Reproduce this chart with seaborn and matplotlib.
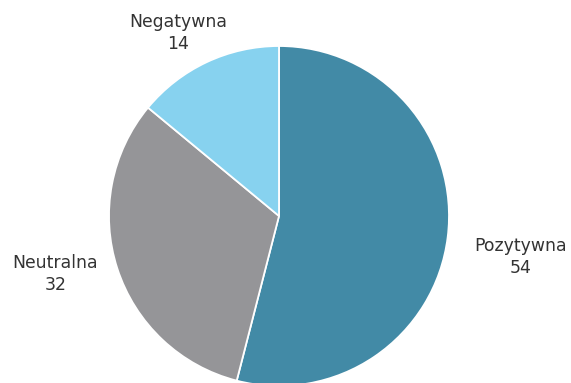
import numpy as np
import matplotlib
matplotlib.use("Agg")
import matplotlib.pyplot as plt
import seaborn as sns

categories = ["Pozytywna", "Neutralna", "Negatywna"]
values = [54, 32, 14]
colors = ["#428aa6", "#959598", "#87d2ef"]

sns.set_theme(style="white")
plt.rcParams["font.family"] = ["DejaVu Sans"]

W, H = 571, 383
fig = plt.figure(figsize=(W / 100, H / 100), dpi=100)
ax = fig.add_axes([0, 0, 1, 1])

cx, cy, r = 279, H - 216, 170
wedges, _ = ax.pie(
    values,
    colors=colors,
    startangle=90,
    counterclock=False,
    center=(cx, cy),
    radius=r,
    wedgeprops=dict(edgecolor="white", linewidth=1.3),
    frame=True,
)
ax.set_xlim(0, W)
ax.set_ylim(0, H)
ax.set_aspect("equal")
ax.axis("off")

# label placement: distance factor and small angular nudge per slice
label_dist = [1.44, 1.36, 1.23]
angle_shift = [-2.4, -3.4, 3.6]
for w, name, val, d, s in zip(wedges, categories, values, label_dist, angle_shift):
    mid = np.deg2rad((w.theta1 + w.theta2) / 2 + s)
    x = cx + r * d * np.cos(mid)
    y = cy + r * d * np.sin(mid)
    ax.text(x, y, f"{name}\n{val}", ha="center", va="center",
            fontsize=12.4, color="#333333", linespacing=1.3)

fig.savefig("out.png", dpi=100, facecolor="white")
